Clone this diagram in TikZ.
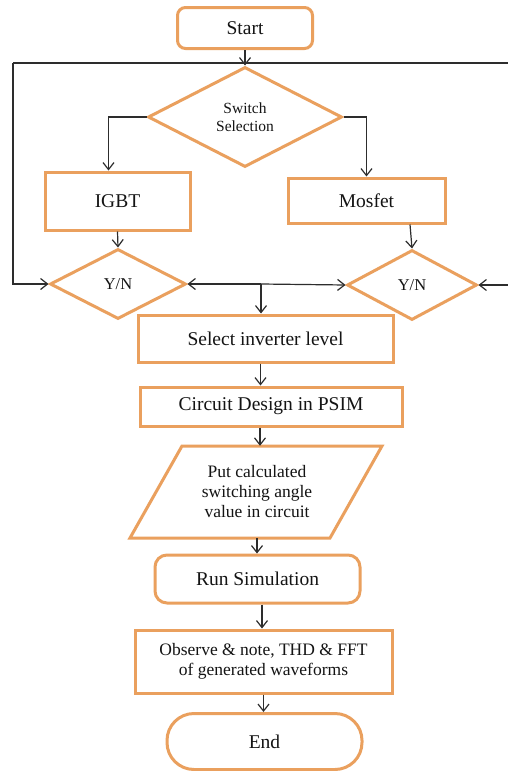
\documentclass[tikz,border=0pt]{standalone}
\usepackage{fontspec}
\setmainfont{Liberation Serif}
\usetikzlibrary{shapes.geometric,arrows.meta}
\definecolor{obox}{RGB}{234,160,94}
\definecolor{ink}{RGB}{45,45,45}
\definecolor{txt}{RGB}{20,20,20}
\tikzset{
  box/.style={draw=obox, line width=3pt, fill=white, text=txt, inner sep=0pt, align=center, font=\fontsize{19.5}{22}\selectfont},
  rbox/.style={box, rounded corners=8pt},
  dec/.style={box, shape=diamond, aspect=2},
  conn/.style={draw=ink, line width=1.2pt, -{Straight Barb[length=7pt,width=11pt,line width=1.2pt]}},
  plain/.style={draw=ink, line width=1.2pt},
}
\begin{document}
\begin{tikzpicture}[x=1pt,y=-1pt]
\useasboundingbox (0,0) rectangle (507,771);
\fill[white] (0,0) rectangle (507,771);
% nodes
\node[rbox, minimum width=135pt, minimum height=41pt] (start) at (245,28) {Start};
\node[dec, minimum width=194pt, minimum height=100pt, font=\fontsize{15.5}{18}\selectfont] (sw) at (245,117) {Switch\\Selection};
\node[box, minimum width=145pt, minimum height=58pt] (igbt) at (117.5,201) {IGBT};
\node[box, minimum width=157pt, minimum height=45pt] (mos) at (366.5,200.5) {Mosfet};
\node[dec, minimum width=136pt, minimum height=70pt, font=\fontsize{16.5}{19}\selectfont] (yn1) at (118,284) {Y/N};
\node[dec, minimum width=130pt, minimum height=70pt, font=\fontsize{16.5}{19}\selectfont] (yn2) at (412,285) {Y/N};
\node[box, minimum width=255pt, minimum height=47pt] (sel) at (265.5,338.5) {Select inverter level};
\node[box, minimum width=262pt, minimum height=39pt] (psim) at (271,406.5) {Circuit Design in PSIM};
\draw[draw=obox, line width=3pt, fill=white] (182,446) -- (382,446) -- (330,538) -- (130,538) -- cycle;
\node[inner sep=0pt, minimum width=200pt, minimum height=92pt, align=center, text=txt, font=\fontsize{17.5}{20}\selectfont] (put) at (257,492) {Put calculated\\switching angle\\value in circuit};
\node[box, rounded corners=12pt, minimum width=205pt, minimum height=48pt] (run) at (257.5,579) {Run Simulation};
\node[box, minimum width=257pt, minimum height=63pt, font=\fontsize{17.5}{20}\selectfont] (obs) at (263.5,661.5) {Observe \& note, THD \& FFT\\of generated waveforms};
\node[box, rounded corners=27pt, minimum width=195pt, minimum height=56pt] (endn) at (264.5,741.5) {End};
% coordinates for loops
\coordinate (tl) at (13,63);
\coordinate (tr) at (509,63);
\coordinate (mid) at (261,284);
% connectors
\draw[conn] (start.south) -- (sw.north);
\draw[plain] (tl) -- (tr);
\draw[conn] (tl) |- (yn1.west);
\draw[conn] (tr) |- (yn2.east);
\draw[conn] (sw.west) -| ([xshift=-9pt]igbt.north);
\draw[conn] (sw.east) -| (mos.north);
\draw[conn] (igbt.south) -- (yn1.north);
\draw[conn] ([xshift=43.5pt]mos.south) -- (yn2.north);
\draw[conn] (mid) -- (yn1.east);
\draw[conn] (mid) -- (yn2.west);
\draw[conn] (mid) -- (mid |- sel.north);
\draw[conn] ([xshift=-5pt]sel.south) -- ([xshift=-5pt]sel.south |- psim.north);
\draw[conn] ([xshift=-11pt]psim.south) -- ([xshift=-11pt]psim.south |- put.north);
\draw[conn] (put.south) -- (put.south |- run.north);
\draw[conn] ([xshift=4.5pt]run.south) -- ([xshift=4.5pt]run.south |- obs.north);
\draw[conn] (obs.south) -- (obs.south |- endn.north);
\end{tikzpicture}
\end{document}
